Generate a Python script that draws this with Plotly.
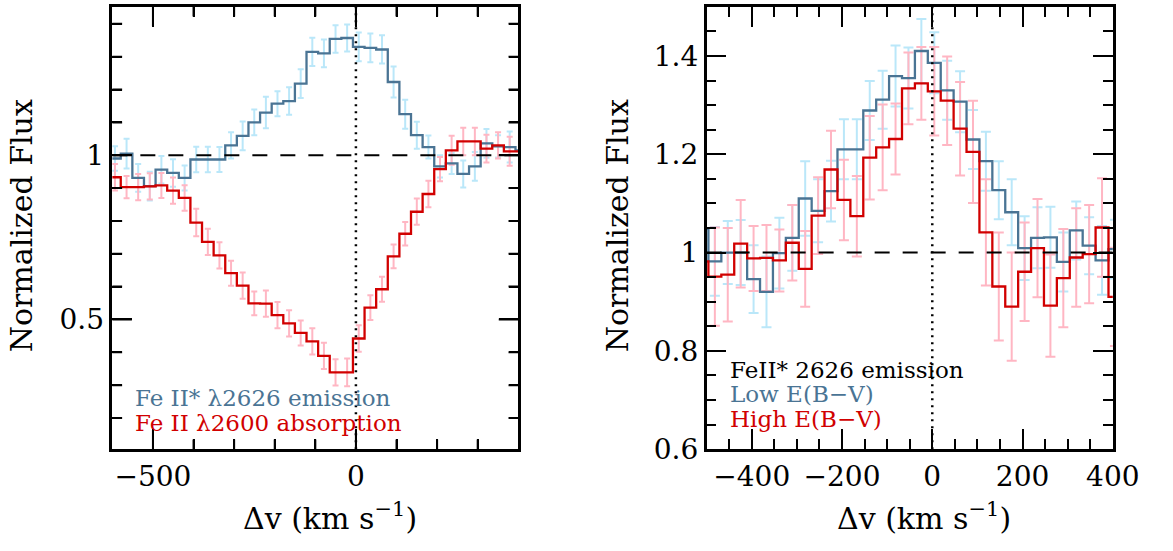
import numpy as np
import plotly.graph_objects as go

# ---------------- left panel: Fe II* 2626 emission vs Fe II 2600 absorption ----------------
v_left = [-593.6, -565.0, -536.4, -507.8, -479.2, -450.6, -422.0, -393.4, -364.8, -336.2,
          -307.6, -279.0, -250.4, -221.8, -193.2, -164.6, -136.0, -107.4, -78.8, -50.2,
          -21.6, 7.0, 35.6, 64.2, 92.8, 121.4, 150.0, 178.6, 207.2, 235.8,
          264.4, 293.0, 321.6, 350.2, 378.8, 407.4]
em_2626 = [0.990, 1.005, 0.931, 0.906, 0.956, 0.946, 0.931, 0.987, 0.987, 0.987,
           1.030, 1.059, 1.100, 1.130, 1.157, 1.165, 1.218, 1.315, 1.310, 1.354,
           1.357, 1.330, 1.327, 1.322, 1.223, 1.125, 1.061, 1.025, 0.966, 0.975,
           0.943, 0.966, 1.036, 1.027, 1.025, 1.015]
em_2626_err = [0.037, 0.045, 0.042, 0.044, 0.042, 0.042, 0.038, 0.039, 0.039, 0.038,
               0.040, 0.044, 0.039, 0.048, 0.038, 0.042, 0.044, 0.043, 0.042, 0.042,
               0.041, 0.044, 0.044, 0.043, 0.047, 0.044, 0.041, 0.035, 0.034, 0.032,
               0.041, 0.044, 0.044, 0.034, 0.047, 0.040]
abs_2600 = [0.933, 0.903, 0.903, 0.905, 0.908, 0.892, 0.870, 0.795, 0.736, 0.695,
            0.641, 0.603, 0.549, 0.548, 0.513, 0.488, 0.459, 0.433, 0.389, 0.339,
            0.339, 0.442, 0.536, 0.592, 0.692, 0.761, 0.828, 0.882, 0.958, 1.015,
            1.042, 1.042, 1.020, 1.030, 1.012, 1.012]
abs_2600_err = [0.040, 0.034, 0.040, 0.040, 0.038, 0.040, 0.039, 0.042, 0.040, 0.040,
                0.038, 0.040, 0.036, 0.040, 0.040, 0.040, 0.038, 0.040, 0.040, 0.040,
                0.042, 0.040, 0.038, 0.038, 0.036, 0.036, 0.040, 0.040, 0.037, 0.044,
                0.042, 0.042, 0.042, 0.040, 0.044, 0.040]

# ---------------- right panel: Fe II* 2626 emission split by E(B-V) ----------------
v_right = [-510.4, -481.8, -453.2, -424.6, -396.0, -367.4, -338.8, -310.2, -281.6, -253.0,
           -224.4, -195.8, -167.2, -138.6, -110.0, -81.4, -52.8, -24.2, 4.4, 33.0,
           61.6, 90.2, 118.8, 147.4, 176.0, 204.6, 233.2, 261.8, 290.4, 319.0,
           347.6, 376.2, 404.8]
low_ebv = [1.048, 0.982, 1.000, 1.000, 0.946, 0.920, 0.999, 1.030, 1.110, 1.085,
           1.125, 1.210, 1.210, 1.289, 1.311, 1.359, 1.355, 1.410, 1.386, 1.330,
           1.307, 1.230, 1.186, 1.127, 1.082, 1.009, 1.030, 1.031, 0.981, 1.045,
           1.014, 0.984, 1.007]
low_ebv_err = [0.060, 0.070, 0.064, 0.066, 0.069, 0.072, 0.072, 0.067, 0.076, 0.064,
               0.062, 0.061, 0.061, 0.060, 0.059, 0.062, 0.062, 0.065, 0.062, 0.060,
               0.062, 0.060, 0.060, 0.059, 0.067, 0.065, 0.062, 0.062, 0.060, 0.059,
               0.058, 0.070, 0.060]
high_ebv = [0.982, 0.951, 0.955, 1.018, 0.988, 0.989, 0.984, 1.020, 0.967, 1.075,
            1.169, 1.107, 1.074, 1.193, 1.214, 1.231, 1.334, 1.344, 1.328, 1.309,
            1.252, 1.205, 1.041, 0.931, 0.890, 0.961, 1.009, 0.892, 0.948, 0.990,
            0.997, 1.051, 0.910]
high_ebv_err = [0.090, 0.100, 0.095, 0.089, 0.066, 0.067, 0.063, 0.077, 0.077, 0.078,
                0.079, 0.082, 0.082, 0.085, 0.087, 0.072, 0.073, 0.074, 0.090, 0.090,
                0.095, 0.104, 0.108, 0.110, 0.110, 0.100, 0.100, 0.104, 0.100, 0.100,
                0.100, 0.100, 0.100]

# tick values of the left panel frame
left_x_major = [-500, 0]
left_x_minor = [-400, -300, -200, -100, 100, 200, 300]
left_y_major = [0.5, 1.0]
left_y_minor = [0.2, 0.3, 0.4, 0.6, 0.7, 0.8, 0.9, 1.1, 1.2, 1.3, 1.4]

LEFT_XR = [-600, 400]
LEFT_YR = [0.105, 1.452]
RIGHT_XR = [-500, 400]
RIGHT_YR = [0.6, 1.5]

DV = 28.6  # velocity bin width (km/s)

BLUE = "#4a7494"
LIGHT_BLUE = "#bae7f9"
RED = "#d10000"
PINK = "#ffb6c3"
FONT = "DejaVu Serif"
MAJOR_LEN, MINOR_LEN = 20, 10


def step_xy(centers, values):
    c = np.asarray(centers, dtype=float)
    edges = np.append(c - DV / 2.0, c[-1] + DV / 2.0)
    return edges, list(values) + [values[-1]]


fig = go.Figure()


def add_errors(v, y, err, err_col, cap, xa, ya):
    fig.add_trace(go.Scatter(
        x=v, y=y, mode="markers", xaxis=xa, yaxis=ya,
        marker=dict(size=0, color="rgba(0,0,0,0)"),
        error_y=dict(type="data", array=err, color=err_col, thickness=2, width=cap),
        showlegend=False, hoverinfo="skip"))


def add_step(v, y, line_col, xa, ya):
    ex, ey = step_xy(v, y)
    fig.add_trace(go.Scatter(
        x=ex, y=ey, mode="lines", xaxis=xa, yaxis=ya,
        line=dict(color=line_col, width=2.3, shape="hv"),
        showlegend=False, hoverinfo="skip"))


# left panel
add_errors(v_left, em_2626, em_2626_err, LIGHT_BLUE, 3, "x", "y")
add_errors(v_left, abs_2600, abs_2600_err, PINK, 3, "x", "y")
add_step(v_left, em_2626, BLUE, "x", "y")
add_step(v_left, abs_2600, RED, "x", "y")

# right panel
add_errors(v_right, low_ebv, low_ebv_err, LIGHT_BLUE, 5, "x2", "y2")
add_errors(v_right, high_ebv, high_ebv_err, PINK, 5, "x2", "y2")
add_step(v_right, low_ebv, BLUE, "x2", "y2")
add_step(v_right, high_ebv, RED, "x2", "y2")

W, H = 1173, 551
L_PX = (115, 530.5)
R_PX = (723.3, 1139)
Y_PX = (7, 463.5)
L_DOM = [L_PX[0] / W, L_PX[1] / W]
R_DOM = [R_PX[0] / W, R_PX[1] / W]
Y_DOM = [1 - Y_PX[1] / H, 1 - Y_PX[0] / H]


def axis(domain, rng, anchor, dtick, minor_dtick):
    return dict(
        domain=domain, range=rng, anchor=anchor,
        tick0=0, dtick=dtick,
        showline=True, linecolor="black", linewidth=2.5, mirror="allticks",
        ticks="inside", ticklen=MAJOR_LEN, tickwidth=2, tickcolor="black",
        minor=dict(ticks="inside", ticklen=MINOR_LEN, tickwidth=2, tickcolor="black",
                   dtick=minor_dtick),
        showgrid=False, zeroline=False,
        tickfont=dict(family=FONT, size=28, color="black"),
    )


fig.update_layout(
    width=W, height=H,
    margin=dict(l=0, r=0, t=0, b=0),
    paper_bgcolor="white", plot_bgcolor="white",
    xaxis=axis(L_DOM, LEFT_XR, "y", 500, 100),
    yaxis=axis(Y_DOM, LEFT_YR, "x", 0.5, 0.1),
    xaxis2=axis(R_DOM, RIGHT_XR, "y2", 200, 50),
    yaxis2=axis(Y_DOM, RIGHT_YR, "x2", 0.2, 0.05),
)

# inward tick marks on all four sides of the left frame (lengths as domain fractions)
plot_w = L_PX[1] - L_PX[0]
plot_h = Y_PX[1] - Y_PX[0]
tick_line = dict(color="black", width=2)
for vals, ln in ((left_x_major, MAJOR_LEN), (left_x_minor, MINOR_LEN)):
    f = ln / plot_h
    for v in vals:
        for y0, y1 in ((0, f), (1, 1 - f)):
            fig.add_shape(type="line", xref="x", yref="y domain", x0=v, x1=v,
                          y0=y0, y1=y1, line=tick_line, layer="above")
for vals, ln in ((left_y_major, MAJOR_LEN), (left_y_minor, MINOR_LEN)):
    f = ln / plot_w
    for v in vals:
        for x0, x1 in ((0, f), (1, 1 - f)):
            fig.add_shape(type="line", xref="x domain", yref="y", x0=x0, x1=x1,
                          y0=v, y1=v, line=tick_line, layer="above")

# reference lines: continuum (dashed) and systemic velocity (dotted)
for xa, ya, xr in (("x", "y", LEFT_XR), ("x2", "y2", RIGHT_XR)):
    fig.add_shape(type="line", xref=xa, yref=ya, x0=xr[0], x1=xr[1], y0=1, y1=1,
                  line=dict(color="black", width=2, dash="15px,13px"), layer="above")
    fig.add_shape(type="line", xref=xa, yref=ya + " domain", x0=0, x1=0, y0=0, y1=1,
                  line=dict(color="black", width=2.5, dash="2px,5px"), layer="above")

# axis titles
title_font = dict(family=FONT, size=30, color="black")
xlabel = "Δv (km s<sup>−1</sup>)"
fig.add_annotation(x=338 / W, y=1 - 533 / H, xref="paper", yref="paper", text=xlabel,
                   showarrow=False, font=title_font, xanchor="center", yanchor="middle")
fig.add_annotation(x=946 / W, y=1 - 533 / H, xref="paper", yref="paper", text=xlabel,
                   showarrow=False, font=title_font, xanchor="center", yanchor="middle")
fig.add_annotation(x=22 / W, y=1 - 233 / H, xref="paper", yref="paper", text="Normalized Flux",
                   showarrow=False, font=title_font, textangle=-90, xanchor="center", yanchor="middle")
fig.add_annotation(x=632 / W, y=1 - 233 / H, xref="paper", yref="paper", text="Normalized Flux",
                   showarrow=False, font=title_font, textangle=-90, xanchor="center", yanchor="middle")

# in-panel labels
lab = 23
labels = [
    (137, 411, "Fe II* λ2626 emission", BLUE),
    (137, 436, "Fe II λ2600 absorption", RED),
    (746, 382, "FeII* 2626 emission", "black"),
    (746, 407, "Low E(B−V)", BLUE),
    (746, 432, "High E(B−V)", RED),
]
for px, py, txt, col in labels:
    fig.add_annotation(x=px / W, y=1 - py / H, xref="paper", yref="paper", text=txt,
                       showarrow=False, font=dict(family=FONT, size=lab, color=col),
                       xanchor="left", yanchor="middle", borderpad=0)

fig.write_html("out.html")
